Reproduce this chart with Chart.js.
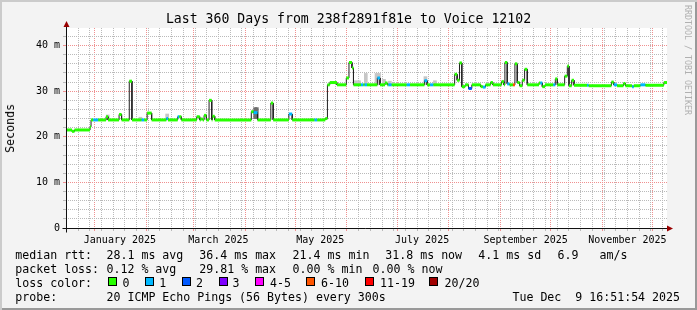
<!DOCTYPE html>
<html>
<head>
<meta charset="utf-8">
<script src="https://cdn.jsdelivr.net/npm/chart.js"></script>
<style>
  body { margin: 0; background: #f3f3f3; }
  #wrap {
    position: relative; width: 697px; height: 310px; overflow: hidden;
    background: #f3f3f3;
    box-shadow: inset 2px 2px 0 #cbcbcb, inset -2px -2px 0 #999999;
    font-family: "DejaVu Sans Mono", monospace; color: #000;
  }
  #wrap canvas { position: absolute; left: 0; top: 0; }
  .t { position: absolute; white-space: pre; line-height: normal; }
  .leg { font-size: 11.6px; }
  .title { font-size: 13.2px; left: 0; width: 697px; text-align: center; top: 10.7px; }
  .sw { position: absolute; width: 7px; height: 7px; border: 1px solid #000; top: 277px; }
  .ylab { font-size: 11.6px; writing-mode: vertical-rl; transform: rotate(180deg); left: 4px; top: 103.5px; line-height: 13px; }
  .wm { font-size: 8.3px; writing-mode: vertical-rl; left: 683px; top: 5px; line-height: 10px; color: #b0b0b0; }
</style>
</head>
<body>
<div id="wrap">
  <canvas id="chart" width="697" height="310"></canvas>
  <div class="t title">Last 360 Days from 238f2891f81e to Voice 12102</div>
  <div class="t ylab">Seconds</div>
  <div class="t wm">RRDTOOL / TOBI OETIKER</div>

  <div class="t leg" style="left:15.3px;top:247.9px">median rtt:</div>
  <div class="t leg" style="left:106.5px;top:247.9px">28.1 ms avg</div>
  <div class="t leg" style="left:199.3px;top:247.9px">36.4 ms max</div>
  <div class="t leg" style="left:292.6px;top:247.9px">21.4 ms min</div>
  <div class="t leg" style="left:385.3px;top:247.9px">31.8 ms now</div>
  <div class="t leg" style="left:478.3px;top:247.9px">4.1 ms sd</div>
  <div class="t leg" style="left:557.6px;top:247.9px">6.9</div>
  <div class="t leg" style="left:599.5px;top:247.9px">am/s</div>

  <div class="t leg" style="left:15.3px;top:261.8px">packet loss:</div>
  <div class="t leg" style="left:106.5px;top:261.8px">0.12 % avg</div>
  <div class="t leg" style="left:199.3px;top:261.8px">29.81 % max</div>
  <div class="t leg" style="left:292.6px;top:261.8px">0.00 % min</div>
  <div class="t leg" style="left:372.6px;top:261.8px">0.00 % now</div>

  <div class="t leg" style="left:15.3px;top:275.7px">loss color:</div>
  <div id="lossLegend"></div>

  <div class="t leg" style="left:15.3px;top:289.6px">probe:</div>
  <div class="t leg" style="left:106.5px;top:289.6px">20 ICMP Echo Pings (56 Bytes) every 300s</div>
  <div class="t leg" style="right:17px;top:289.6px">Tue Dec  9 16:51:54 2025</div>
</div>
<script>
// graph window: 360 days ending Tue Dec 9 2025 16:51:54
const t0 = Date.UTC(2024, 11, 14, 16, 51, 54);
const DAY = 86400000;
const dayOf = (y, m, d) => (Date.UTC(y, m, d) - t0) / DAY;
const endDay = 360;

// median rtt as steps: start day, value (ms), loss class index
const medDay = [0, 3.6, 5.1, 14.4, 15.0, 16.3, 19.3, 24.0, 25.2, 31.8,
  33.3, 37.9, 39.5, 45.3, 46.9, 48.6, 51.3, 60.1, 61.1, 66.9,
  67.8, 69.1, 78.3, 80.1, 80.7, 81.9, 82.7, 84.1, 85.7, 87.3,
  87.7, 89.1, 111.0, 112.4, 114.7, 122.7, 124.1, 133.5, 135.5, 148.9,
  150.5, 155.3, 156.6, 158.0, 162.3, 167.9, 169.5, 171.3, 172.2, 176.7,
  178.1, 178.9, 180.3, 186.5, 188.1, 191.1, 192.5, 193.1, 195.1, 204.1,
  206.1, 214.7, 216.3, 218.1, 220.1, 232.8, 234.3, 235.7, 237.1, 239.1,
  241.1, 243.1, 248.4, 249.7, 251.3, 254.3, 255.7, 260.9, 262.3, 262.9,
  264.3, 265.7, 267.7, 268.9, 270.3, 271.7, 273.3, 274.7, 276.3, 283.3,
  284.1, 285.3, 286.9, 291.9, 293.1, 294.3, 298.7, 300.3, 301.3, 302.9,
  304.3, 312.1, 313.1, 326.7, 328.1, 330.1, 333.9, 335.1, 339.1, 340.1,
  344.1, 347.1, 358.1];
const medMs = [21.5, 21.2, 21.5, 22.2, 23.7, 23.7, 23.7, 24.4, 23.7, 24.9,
  23.7, 32.2, 23.7, 23.7, 23.7, 25.2, 23.7, 24.0, 23.7, 24.4,
  24.4, 23.7, 24.4, 23.7, 23.9, 23.7, 24.7, 23.7, 28.0, 23.7,
  24.5, 23.7, 25.5, 25.3, 23.7, 27.4, 23.7, 25.0, 23.7, 23.7,
  23.7, 24.0, 31.4, 31.9, 31.4, 32.9, 36.3, 35.1, 31.4, 31.4,
  31.4, 31.4, 31.4, 32.9, 31.4, 31.8, 31.4, 31.4, 31.4, 31.4,
  31.4, 32.3, 31.4, 31.4, 31.4, 33.7, 32.4, 36.2, 31.0, 31.4,
  30.6, 31.4, 31.0, 30.9, 31.4, 31.9, 31.4, 32.1, 31.4, 36.3,
  31.6, 31.4, 31.4, 36.0, 31.9, 31.2, 32.4, 34.8, 31.4, 31.8,
  31.8, 31.0, 31.4, 31.4, 32.7, 31.4, 33.3, 35.5, 31.2, 32.4,
  31.3, 31.3, 31.2, 32.0, 31.4, 31.2, 31.7, 31.2, 31.0, 31.2,
  31.4, 31.3, 31.9];
const medLoss = [0, 0, 0, 0, 0, 1, 0, 0, 0, 0,
  0, 0, 0, 1, 0, 0, 0, 1, 0, 1,
  0, 0, 0, 0, 0, 0, 0, 0, 0, 0,
  0, 0, 0, 1, 0, 0, 0, 1, 0, 1,
  0, 0, 0, 0, 0, 0, 0, 0, 0, 1,
  0, 1, 0, 1, 0, 0, 0, 1, 0, 1,
  0, 1, 0, 1, 0, 0, 0, 0, 0, 0,
  2, 0, 0, 1, 0, 0, 0, 0, 0, 0,
  1, 0, 5, 0, 0, 0, 0, 0, 0, 0,
  1, 0, 0, 1, 0, 0, 0, 0, 0, 0,
  0, 1, 0, 0, 1, 0, 0, 0, 1, 0,
  1, 0, 0];

// smoke (ping spread) spots: day, low, high (ms)
const smokeDay = [25.0, 44.6, 60.6, 173.5, 175.5, 179.6, 186.0, 187.5, 190.5, 194.0, 215.3, 221.0];
const smokeLo = [23.7, 23.7, 23.7, 31.4, 31.4, 31.4, 31.4, 31.4, 31.4, 31.4, 31.4, 31.4];
const smokeHi = [24.8, 24.3, 25.0, 32.3, 32.3, 33.9, 33.9, 33.9, 32.6, 32.2, 33.2, 32.3];
const darkSmokeDay = [113.3, 114.3];
const darkSmokeLo = [24.0, 24.0];
const darkSmokeHi = [26.4, 26.4];

const lossLabels = ['0', '1', '2', '3', '4-5', '6-10', '11-19', '20/20'];
const lossColors = ['#26ff00', '#00b8ff', '#0059ff', '#7e00ff', '#ff00ff', '#ff5500', '#ff0000', '#a00000'];
const monthLabels = ['January 2025', 'March 2025', 'May 2025', 'July 2025', 'September 2025', 'November 2025'];
const labelMonths = [0, 2, 4, 6, 8, 10];
const yTicks = [0, 2, 4, 6, 8, 10, 12, 14, 16, 18, 20, 22, 24, 26, 28, 30, 32, 34, 36, 38, 40, 42];
const yMax = 43.86;

// loss colour legend
const swX = [107.6, 145, 182, 218.6, 255.3, 306, 364.6, 429.3];
const swTxt = [122.6, 159.3, 196, 232.6, 270, 321, 380, 444.6];
const ll = document.getElementById('lossLegend');
lossLabels.forEach((t, i) => {
  const b = document.createElement('div');
  b.className = 'sw';
  b.style.left = swX[i] + 'px';
  b.style.background = lossColors[i];
  ll.appendChild(b);
  const s = document.createElement('div');
  s.className = 't leg';
  s.style.left = swTxt[i] + 'px';
  s.style.top = '275.7px';
  s.textContent = t;
  ll.appendChild(s);
});

// median steps -> points (horizontal piece then vertical jump)
const medPoints = [];
medDay.forEach((d, i) => {
  const next = i + 1 < medDay.length ? medDay[i + 1] : endDay;
  medPoints.push({ x: d, y: medMs[i] }, { x: next, y: medMs[i] });
});

// x ticks: weekly minor grid, monthly major grid, month labels mid-month
const xTicks = [];
const monthStarts = [];
for (let m = 0; m < 12; m++) monthStarts.push(dayOf(2025, m, 1));
for (let d = dayOf(2024, 11, 15); d < endDay; d += 7) {
  if (!monthStarts.some(v => Math.abs(v - d) < 0.01)) xTicks.push({ value: d, kind: 'week' });
}
monthStarts.forEach(v => xTicks.push({ value: v, kind: 'month' }));
labelMonths.forEach((m, i) => xTicks.push({ value: dayOf(2025, m, 16), kind: 'label', txt: monthLabels[i] }));
xTicks.sort((a, b) => a.value - b.value);

const minorCol = '#bababa';
const majorCol = '#f09090';

const frame = {
  id: 'frame',
  beforeDraw(c) {
    const a = c.chartArea, g = c.ctx;
    g.save();
    g.fillStyle = '#ffffff';
    g.fillRect(a.left, a.top, a.right - a.left, a.bottom - a.top);
    g.restore();
  },
  afterDraw(c) {
    const a = c.chartArea, g = c.ctx;
    const x0 = Math.round(a.left) + 0.5, y0 = Math.round(a.bottom) + 0.5;
    g.save();
    g.strokeStyle = '#101010';
    g.lineWidth = 1;
    g.beginPath();
    g.moveTo(x0 - 4, y0); g.lineTo(a.right + 2, y0);
    g.moveTo(x0, y0 + 4); g.lineTo(x0, a.top - 2);
    g.stroke();
    g.fillStyle = '#990000';
    g.beginPath();
    g.moveTo(x0, a.top - 7); g.lineTo(x0 - 3, a.top - 1); g.lineTo(x0 + 3, a.top - 1);
    g.closePath(); g.fill();
    g.beginPath();
    g.moveTo(a.right + 6, y0); g.lineTo(a.right, y0 - 3); g.lineTo(a.right, y0 + 3);
    g.closePath(); g.fill();
    g.restore();
  }
};

const xGridCol = ctx => {
  const k = ctx.tick && ctx.tick.kind;
  return k === 'month' ? majorCol : k === 'week' ? minorCol : 'rgba(0,0,0,0)';
};
const yGridCol = ctx => {
  const v = ctx.tick ? ctx.tick.value : 1;
  return v % 10 === 0 ? majorCol : minorCol;
};

new Chart(document.getElementById('chart'), {
  type: 'line',
  data: {
    datasets: [
      {
        label: 'median',
        data: medPoints,
        borderWidth: 3,
        borderCapStyle: 'butt',
        pointRadius: 0,
        tension: 0,
        order: 0,
        segment: {
          borderColor: s => s.p0DataIndex % 2 === 0 ? lossColors[medLoss[s.p0DataIndex / 2]] : 'rgba(0,0,0,0)'
        }
      },
      {
        label: 'median line',
        data: medPoints.map(p => ({ x: p.x, y: p.y })),
        borderColor: '#202020',
        borderWidth: 1,
        pointRadius: 0,
        tension: 0,
        order: 1
      },
      {
        type: 'bar',
        label: 'smoke',
        data: smokeDay.map((d, i) => ({ x: d, y: [smokeLo[i], smokeHi[i]] })),
        backgroundColor: '#c6c6c6',
        barThickness: 3,
        grouped: false,
        order: 2
      },
      {
        type: 'bar',
        label: 'smoke dark',
        data: darkSmokeDay.map((d, i) => ({ x: d, y: [darkSmokeLo[i], darkSmokeHi[i]] })),
        backgroundColor: '#6e6e6e',
        barThickness: 3,
        grouped: false,
        order: 2
      }
    ]
  },
  options: {
    responsive: false,
    animation: false,
    devicePixelRatio: 1,
    layout: { padding: { left: 0, right: 30, top: 28, bottom: 62 } },
    plugins: { legend: { display: false }, title: { display: false }, tooltip: { enabled: false } },
    events: [],
    scales: {
      x: {
        type: 'linear',
        min: 0,
        max: endDay,
        offset: false,
        afterFit: s => { s.height = 20; },
        afterBuildTicks: s => { s.ticks = xTicks.map(t => ({ ...t })); },
        ticks: {
          autoSkip: false,
          maxRotation: 0,
          padding: 3,
          color: '#000',
          font: { family: 'DejaVu Sans Mono', size: 10 },
          callback: (v, i, ts) => ts[i].txt || ''
        },
        grid: { offset: false, color: xGridCol, tickColor: xGridCol, lineWidth: 1, tickLength: 3 },
        border: { display: false, dash: [1, 1] }
      },
      y: {
        type: 'linear',
        min: 0,
        max: yMax,
        afterFit: s => { s.width = 66; },
        afterBuildTicks: s => { s.ticks = yTicks.map(v => ({ value: v })); },
        ticks: {
          autoSkip: false,
          padding: 3,
          color: '#000',
          font: { family: 'DejaVu Sans Mono', size: 10 },
          callback: v => v === 0 ? '0' : (v % 10 === 0 ? v + ' m' : '')
        },
        grid: { color: yGridCol, tickColor: yGridCol, lineWidth: 1, tickLength: 3 },
        border: { display: false, dash: [1, 1] }
      }
    }
  },
  plugins: [frame]
});
</script>
</body>
</html>
